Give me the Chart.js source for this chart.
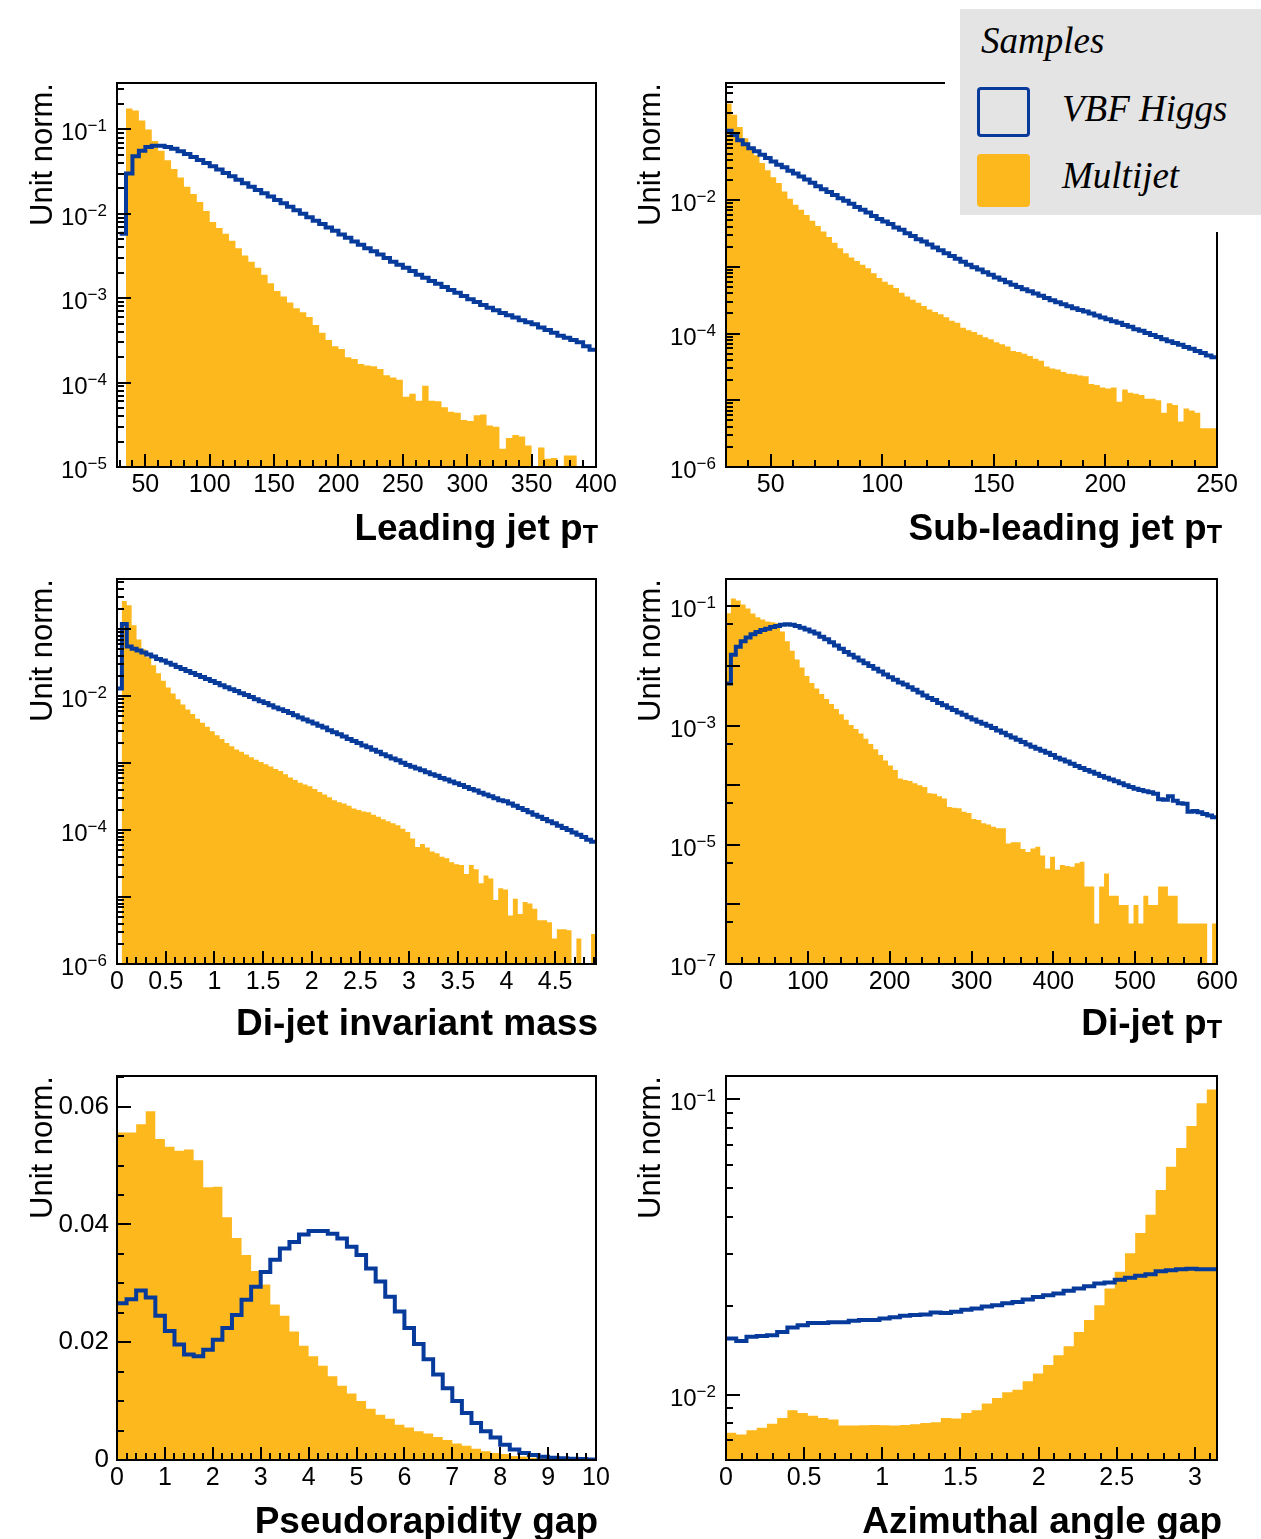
<!DOCTYPE html>
<html>
<head>
<meta charset="utf-8">
<script src="https://cdn.jsdelivr.net/npm/chart.js@4.4.1/dist/chart.umd.min.js"></script>
<style>
  body { margin: 0; background: #fff; }
  #page { position: relative; width: 1261px; height: 1539px; overflow: hidden; background: #fff;
          font-family: "Liberation Sans", Arial, Helvetica, sans-serif; color: #000; }
  #page canvas { position: absolute; }
  .xtitle { position: absolute; font-weight: bold; font-size: 37px; line-height: 37px; white-space: nowrap; text-align: right; }
  .xtitle sub { font-size: 0.68em; vertical-align: -0.12em; line-height: 0; }
  .ytitle { position: absolute; font-size: 31px; line-height: 31px; white-space: nowrap;
            transform-origin: 0 0; transform: rotate(-90deg) translateX(-100%); }
  #legendCover { position: absolute; left: 945px; top: 0; width: 316px; height: 232px; background: #fff; z-index: 5; }
  #legendBox { position: absolute; left: 960px; top: 9px; width: 301px; height: 206px; background: #e4e4e4; z-index: 6; }
  .leg { position: absolute; font-family: "Liberation Serif", "Times New Roman", serif; font-style: italic;
         font-size: 37px; line-height: 37px; white-space: nowrap; z-index: 7; }
  .mark { position: absolute; box-sizing: border-box; border-radius: 4px; z-index: 7; }
</style>
</head>
<body>
<div id="page">
  <div class="ytitle" style="left:26px;top:83px">Unit norm.</div>
  <div class="ytitle" style="left:634px;top:83px">Unit norm.</div>
  <div class="ytitle" style="left:26px;top:579px">Unit norm.</div>
  <div class="ytitle" style="left:634px;top:579px">Unit norm.</div>
  <div class="ytitle" style="left:26px;top:1076px">Unit norm.</div>
  <div class="ytitle" style="left:634px;top:1076px">Unit norm.</div>

  <div class="xtitle" style="right:663px;top:509px">Leading jet p<sub>T</sub></div>
  <div class="xtitle" style="right:39px;top:509px">Sub-leading jet p<sub>T</sub></div>
  <div class="xtitle" style="right:663px;top:1004px">Di-jet invariant mass</div>
  <div class="xtitle" style="right:39px;top:1004px">Di-jet p<sub>T</sub></div>
  <div class="xtitle" style="right:663px;top:1502px">Pseudorapidity gap</div>
  <div class="xtitle" style="right:39px;top:1502px">Azimuthal angle gap</div>

  <div id="legendCover"></div>
  <div id="legendBox"></div>
  <div class="leg" style="left:981px;top:22px">Samples</div>
  <div class="mark" style="left:977px;top:87px;width:53px;height:50px;border:3px solid #063a9b"></div>
  <div class="leg" style="left:1062px;top:90px">VBF Higgs</div>
  <div class="mark" style="left:977px;top:154px;width:53px;height:53px;background:#fdb81e"></div>
  <div class="leg" style="left:1062px;top:157px">Multijet</div>
</div>

<script>
// ---- Leading jet pT ----
const leadBinLow = 30, leadBinWidth = 5;
const leadMultijet = [
  0, 0.177, 0.168, 0.128, 0.100, 0.073, 0.056, 0.043, 0.034, 0.027,
  0.021, 0.0172, 0.0138, 0.0108, 0.0080, 0.0068, 0.0058, 0.0048, 0.0039, 0.0032,
  0.0027, 0.0023, 0.0019, 0.0015, 0.00122, 0.00105, 0.00089, 0.00076, 0.00068, 0.00060,
  0.00048, 0.00039, 0.00032, 0.00027, 0.00025, 0.00020, 0.00019, 0.000166, 0.000160, 0.000156,
  0.000145, 0.000122, 0.000115, 0.000108, 6.8e-5, 7.4e-5, 6.1e-5, 9.2e-5, 6.1e-5, 6.0e-5,
  5.1e-5, 4.5e-5, 4.4e-5, 3.6e-5, 3.5e-5, 4.1e-5, 4.2e-5, 3.1e-5, 3.0e-5, 1.65e-5,
  2.2e-5, 2.4e-5, 2.3e-5, 1.8e-5, 0, 1.7e-5, 1.25e-5, 1.28e-5, 0, 1.37e-5,
  1.37e-5, 0, 0, 0
];
const leadVBF = [
  0.0058, 0.030, 0.048, 0.056, 0.062, 0.064, 0.064, 0.062, 0.059, 0.055,
  0.051, 0.047, 0.0435, 0.040, 0.0365, 0.0335, 0.0305, 0.0278, 0.0253, 0.0230,
  0.0210, 0.0192, 0.0175, 0.0160, 0.0146, 0.0133, 0.0121, 0.0110, 0.0100, 0.0091,
  0.0083, 0.0076, 0.0069, 0.0063, 0.0057, 0.0052, 0.0047, 0.0043, 0.0039, 0.0036,
  0.0033, 0.0030, 0.0027, 0.0025, 0.0023, 0.0021, 0.0019, 0.00175, 0.0016, 0.00148,
  0.00136, 0.00125, 0.00116, 0.00106, 0.00097, 0.00090, 0.00083, 0.00077, 0.00072, 0.00067,
  0.00063, 0.00059, 0.00055, 0.00052, 0.00049, 0.00045, 0.00042, 0.00039, 0.00036, 0.00034,
  0.00032, 0.00030, 0.00027, 0.000245
];
const leadXTicks = [50, 100, 150, 200, 250, 300, 350, 400];
const leadYLabels = [1e-1, 1e-2, 1e-3, 1e-4, 1e-5];

// ---- Sub-leading jet pT ----
const subBinLow = 30, subBinWidth = 2.5;
const subMultijet = [
  0.28, 0.19, 0.125, 0.085, 0.063, 0.047, 0.036, 0.028, 0.022, 0.018,
  0.0135, 0.0105, 0.0085, 0.0072, 0.0060, 0.0049, 0.0041, 0.0034, 0.0028, 0.0023,
  0.0019, 0.0016, 0.00138, 0.00122, 0.00108, 0.00095, 0.00080, 0.00068, 0.00060, 0.00054,
  0.00048, 0.00041, 0.00036, 0.00032, 0.00029, 0.00026, 0.00023, 0.00021, 0.000195, 0.000175,
  0.000155, 0.000145, 0.000122, 0.000112, 0.000106, 9.6e-5, 8.8e-5, 8.2e-5, 7.4e-5, 6.9e-5,
  6.4e-5, 5.5e-5, 5.3e-5, 5.0e-5, 4.6e-5, 4.2e-5, 3.9e-5, 3.2e-5, 3.0e-5, 2.9e-5,
  2.65e-5, 2.5e-5, 2.45e-5, 2.35e-5, 2.3e-5, 1.75e-5, 1.7e-5, 1.55e-5, 1.5e-5, 1.55e-5,
  9.5e-6, 1.45e-5, 1.3e-5, 1.25e-5, 1.2e-5, 1.05e-5, 1.05e-5, 1.0e-5, 6.5e-6, 9.0e-6,
  8.5e-6, 4.8e-6, 7.5e-6, 7.0e-6, 6.5e-6, 3.8e-6, 3.8e-6, 3.8e-6
];
const subVBF = [
  0.110, 0.095, 0.079, 0.069, 0.060, 0.054, 0.048, 0.043, 0.038, 0.034,
  0.031, 0.0275, 0.025, 0.0226, 0.0204, 0.0182, 0.0162, 0.0146, 0.0132, 0.0119,
  0.0107, 0.0098, 0.0088, 0.0079, 0.0072, 0.0065, 0.0058, 0.0052, 0.0048, 0.0044,
  0.0039, 0.0036, 0.0032, 0.0029, 0.0026, 0.0024, 0.00216, 0.00195, 0.00178, 0.0016,
  0.00145, 0.00132, 0.00119, 0.00108, 0.00099, 0.00091, 0.00083, 0.00076, 0.00069, 0.00064,
  0.00059, 0.00054, 0.0005, 0.00046, 0.00043, 0.0004, 0.00037, 0.00034, 0.000316, 0.000295,
  0.000275, 0.000257, 0.00024, 0.000226, 0.000214, 0.0002, 0.000186, 0.000174, 0.000164, 0.000153,
  0.000145, 0.000135, 0.000126, 0.000116, 0.00011, 0.000102, 9.5e-5, 8.9e-5, 8.2e-5, 7.7e-5,
  7.2e-5, 6.8e-5, 6.3e-5, 5.9e-5, 5.5e-5, 5.1e-5, 4.7e-5, 4.4e-5
];
const subXTicks = [50, 100, 150, 200, 250];
const subYLabels = [1e-2, 1e-4, 1e-6];

// ---- Di-jet invariant mass ----
const massBinLow = 0, massBinWidth = 0.0502;
const massMultijet = [
  0, 0.264, 0.228, 0.115, 0.070, 0.050, 0.038, 0.029, 0.022, 0.017,
  0.0135, 0.0110, 0.0090, 0.0075, 0.0063, 0.0054, 0.0046, 0.0040, 0.0035, 0.0030,
  0.0026, 0.0023, 0.0020, 0.00178, 0.0016, 0.00148, 0.00135, 0.00122, 0.00112, 0.00104,
  0.00096, 0.00089, 0.00082, 0.00076, 0.00068, 0.00061, 0.00056, 0.00051, 0.00048, 0.00045,
  0.00041, 0.00037, 0.00034, 0.00031, 0.00028, 0.00026, 0.00025, 0.00023, 0.00021, 0.00020,
  0.00019, 0.000185, 0.00017, 0.000158, 0.000145, 0.000135, 0.000126, 0.000118, 0.000105, 9.4e-5,
  7.5e-5, 5.6e-5, 6.2e-5, 5.5e-5, 4.8e-5, 4.5e-5, 4.0e-5, 3.8e-5, 3.3e-5, 3.1e-5,
  3.0e-5, 2.2e-5, 3.0e-5, 2.6e-5, 1.6e-5, 2.1e-5, 1.9e-5, 9.0e-6, 1.35e-5, 1.3e-5,
  5.3e-6, 9.4e-6, 5.6e-6, 8.4e-6, 8.0e-6, 6.7e-6, 4.5e-6, 4.5e-6, 4.2e-6, 2.4e-6,
  3.3e-6, 3.3e-6, 3.2e-6, 0, 2.4e-6, 0, 0, 2.8e-6
];
const massVBF = [
  0.013, 0.12, 0.055, 0.051, 0.048, 0.045, 0.042, 0.039, 0.036, 0.034,
  0.0316, 0.0295, 0.0272, 0.0254, 0.0237, 0.0221, 0.0207, 0.0193, 0.018, 0.0168,
  0.0157, 0.0146, 0.0136, 0.0127, 0.0119, 0.0111, 0.0104, 0.0097, 0.009, 0.0084,
  0.0079, 0.0073, 0.0068, 0.0064, 0.006, 0.0056, 0.0052, 0.0048, 0.0045, 0.0042,
  0.0039, 0.0036, 0.0034, 0.0031, 0.0029, 0.0027, 0.0025, 0.0023, 0.00214, 0.002,
  0.00184, 0.00172, 0.00158, 0.00148, 0.00136, 0.00127, 0.00117, 0.0011, 0.00101, 0.00094,
  0.00088, 0.00083, 0.00078, 0.00073, 0.00068, 0.00065, 0.0006, 0.00057, 0.00053, 0.0005,
  0.00047, 0.00044, 0.00041, 0.00039, 0.00036, 0.00034, 0.00032, 0.0003, 0.00028, 0.00027,
  0.00025, 0.00023, 0.000214, 0.0002, 0.000184, 0.00017, 0.000158, 0.000146, 0.000135, 0.000126,
  0.000116, 0.000107, 0.0001, 9.2e-5, 8.5e-5, 7.9e-5, 7.2e-5, 6.7e-5
];
const massXTicks = [0, 0.5, 1, 1.5, 2, 2.5, 3, 3.5, 4, 4.5];
const massYLabels = [1e-2, 1e-4, 1e-6];

// ---- Di-jet pT ----
const ptBinLow = 0, ptBinWidth = 6;
const ptMultijet = [
  0.077, 0.135, 0.125, 0.108, 0.092, 0.076, 0.066, 0.060, 0.056, 0.054,
  0.052, 0.038, 0.026, 0.018, 0.0128, 0.0094, 0.0068, 0.0052, 0.0042, 0.0034,
  0.0028, 0.0023, 0.0019, 0.00155, 0.00125, 0.00102, 0.00088, 0.00074, 0.0006, 0.00049,
  0.0004, 0.00032, 0.00026, 0.000215, 0.00018, 0.00013, 0.000122, 0.000118, 0.000108, 0.0001,
  9.3e-5, 7.3e-5, 7.2e-5, 6.5e-5, 6.0e-5, 4.3e-5, 4.2e-5, 4.1e-5, 3.6e-5, 3.4e-5,
  2.7e-5, 2.6e-5, 2.3e-5, 2.2e-5, 2.0e-5, 1.9e-5, 1.9e-5, 1.05e-5, 1.1e-5, 1.1e-5,
  8.5e-6, 7.6e-6, 8.7e-6, 9.3e-6, 6.6e-6, 4.0e-6, 6.3e-6, 3.8e-6, 4.6e-6, 4.4e-6,
  4.3e-6, 4.9e-6, 5.2e-6, 2.0e-6, 2.0e-6, 4.8e-7, 2.0e-6, 3.3e-6, 1.4e-6, 1.4e-6,
  9.8e-7, 9.8e-7, 4.8e-7, 9.8e-7, 4.8e-7, 1.4e-6, 9.8e-7, 9.8e-7, 2.0e-6, 2.0e-6,
  1.4e-6, 1.4e-6, 4.8e-7, 4.8e-7, 4.8e-7, 4.8e-7, 4.8e-7, 4.8e-7, 0, 4.8e-7
];
const ptVBF = [
  0.0051, 0.0155, 0.021, 0.026, 0.030, 0.034, 0.037, 0.040, 0.042, 0.045,
  0.047, 0.049, 0.050, 0.049, 0.047, 0.044, 0.041, 0.038, 0.035, 0.031,
  0.028, 0.025, 0.022, 0.0195, 0.0172, 0.0155, 0.0139, 0.0124, 0.0111, 0.0100,
  0.0090, 0.0081, 0.0072, 0.0065, 0.0059, 0.0053, 0.0049, 0.0044, 0.0040, 0.0036,
  0.0032, 0.0029, 0.0027, 0.0024, 0.0022, 0.0020, 0.00183, 0.00166, 0.00152, 0.00138,
  0.00127, 0.00116, 0.00107, 0.00099, 0.00091, 0.00083, 0.00076, 0.00069, 0.00063, 0.00058,
  0.00053, 0.00048, 0.00044, 0.00041, 0.00038, 0.00035, 0.00032, 0.00029, 0.00027, 0.00025,
  0.00023, 0.00021, 0.000195, 0.00018, 0.000168, 0.000155, 0.000143, 0.000133, 0.000125, 0.000116,
  0.000108, 0.0001, 9.3e-5, 8.7e-5, 8.3e-5, 7.9e-5, 7.6e-5, 7.2e-5, 5.8e-5, 5.7e-5,
  6.5e-5, 5.5e-5, 5.0e-5, 4.9e-5, 3.6e-5, 3.7e-5, 3.5e-5, 3.3e-5, 3.1e-5, 2.9e-5
];
const ptXTicks = [0, 100, 200, 300, 400, 500, 600];
const ptYLabels = [1e-1, 1e-3, 1e-5, 1e-7];

// ---- Pseudorapidity gap ----
const etaBinLow = 0, etaBinWidth = 0.2;
const etaMultijet = [
  0.0556, 0.0556, 0.0570, 0.0592, 0.0545, 0.0532, 0.0525, 0.0527, 0.0509, 0.0463,
  0.0464, 0.0412, 0.0377, 0.0348, 0.0321, 0.0298, 0.0264, 0.0245, 0.0218, 0.0194,
  0.0176, 0.0160, 0.0142, 0.0126, 0.0113, 0.0100, 0.0087, 0.0077, 0.0070, 0.0060,
  0.0055, 0.0049, 0.0045, 0.0039, 0.0034, 0.0028, 0.0024, 0.0019, 0.0015, 0.0012,
  0.0010, 0.0007, 0.0006, 0.0004, 0.0003, 0.0002, 0.00012, 0.00006, 0.00003, 0.00003
];
const etaVBF = [
  0.0266, 0.0273, 0.0288, 0.0276, 0.0245, 0.0219, 0.0196, 0.0179, 0.0176, 0.0187,
  0.0204, 0.0224, 0.0246, 0.0272, 0.0294, 0.0319, 0.0340, 0.0359, 0.0370, 0.0383,
  0.0389, 0.0389, 0.0384, 0.0376, 0.0362, 0.0348, 0.0325, 0.0303, 0.0277, 0.0252,
  0.0224, 0.0197, 0.0171, 0.0145, 0.0122, 0.0100, 0.0080, 0.0063, 0.0049, 0.0038,
  0.0026, 0.0018, 0.0012, 0.00085, 0.00056, 0.0004, 0.00028, 0.0002, 0.00015, 0.0001
];
const etaXTicks = [0, 1, 2, 3, 4, 5, 6, 7, 8, 9, 10];
const etaYLabels = [0, 0.02, 0.04, 0.06];

// ---- Azimuthal angle gap ----
const phiBinLow = 0, phiBinWidth = Math.PI / 48;
const phiMultijet = [
  0.00743, 0.00733, 0.00758, 0.00773, 0.00798, 0.00834, 0.00885, 0.00867, 0.00849, 0.00834,
  0.00824, 0.00787, 0.00787, 0.00788, 0.0079, 0.00788, 0.00787, 0.0079, 0.00794, 0.00802,
  0.00807, 0.00834, 0.0083, 0.00867, 0.00885, 0.00933, 0.00975, 0.0102, 0.0104, 0.0111,
  0.0118, 0.0126, 0.0136, 0.0146, 0.0163, 0.0179, 0.0201, 0.0229, 0.0261, 0.0301,
  0.0353, 0.0407, 0.0493, 0.0591, 0.0684, 0.0813, 0.097, 0.108
];
const phiVBF = [
  0.0155, 0.0152, 0.0157, 0.0158, 0.0159, 0.0163, 0.0169, 0.0172, 0.0175, 0.0175,
  0.0176, 0.0176, 0.0178, 0.0179, 0.0179, 0.0181, 0.0183, 0.0185, 0.0186, 0.0187,
  0.0190, 0.0189, 0.0191, 0.0194, 0.0196, 0.0199, 0.0201, 0.0204, 0.0206, 0.0210,
  0.0214, 0.0217, 0.0220, 0.0225, 0.0229, 0.0233, 0.0238, 0.0240, 0.0245, 0.0249,
  0.0253, 0.0256, 0.0262, 0.0264, 0.0266, 0.0267, 0.0266, 0.0266
];
const phiXTicks = [0, 0.5, 1, 1.5, 2, 2.5, 3];
const phiYLabels = [1e-1, 1e-2];

// ---------------------------------------------------------------
const BLUE = '#063a9b';
const ORANGE = '#fdb81e';
const FONT = "'Liberation Sans', Arial, Helvetica, sans-serif";
const PAD = { l: 110, t: 30, r: 30, b: 50 };
const page = document.getElementById('page');

const panels = [
  { frame: [117, 83, 596, 467], xr: [28, 400], yr: [1e-5, 0.355], log: true,
    lo: leadBinLow, w: leadBinWidth, multi: leadMultijet, vbf: leadVBF,
    xt: leadXTicks, xMinor: 10, yl: leadYLabels, yMinor: [2, 3, 4, 5, 6, 7, 8, 9] },
  { frame: [726, 83, 1217, 467], xr: [30, 250], yr: [1e-6, 0.57], log: true,
    lo: subBinLow, w: subBinWidth, multi: subMultijet, vbf: subVBF,
    xt: subXTicks, xMinor: 10, yl: subYLabels, yMinor: [2, 3, 4, 5, 6, 7, 8, 9] },
  { frame: [117, 579, 596, 964], xr: [0, 4.92], yr: [1e-6, 0.562], log: true,
    lo: massBinLow, w: massBinWidth, multi: massMultijet, vbf: massVBF,
    xt: massXTicks, xMinor: 0.1, yl: massYLabels, yMinor: [2, 3, 4, 5, 6, 7, 8, 9] },
  { frame: [726, 579, 1217, 964], xr: [0, 600], yr: [1e-7, 0.288], log: true,
    lo: ptBinLow, w: ptBinWidth, multi: ptMultijet, vbf: ptVBF,
    xt: ptXTicks, xMinor: 20, yl: ptYLabels, yMinor: [5] },
  { frame: [117, 1076, 596, 1460], xr: [0, 10], yr: [0, 0.0652], log: false,
    lo: etaBinLow, w: etaBinWidth, multi: etaMultijet, vbf: etaVBF,
    xt: etaXTicks, xMinor: 0.2, yl: etaYLabels, yMinor: 0.005 },
  { frame: [726, 1076, 1217, 1460], xr: [0, Math.PI], yr: [0.00601, 0.12], log: true,
    lo: phiBinLow, w: phiBinWidth, multi: phiMultijet, vbf: phiVBF,
    xt: phiXTicks, xMinor: 0.1, yl: phiYLabels, yMinor: [2, 3, 4, 5, 6, 7, 8, 9] }
];

const near = (a, b) => Math.abs(a - b) <= 1e-9 * Math.max(1, Math.abs(b)) || (b !== 0 && Math.abs(a / b - 1) < 1e-6);

function linearTicks(majors, step, min, max) {
  const out = majors.map(v => ({ value: v, major: true }));
  const k0 = Math.ceil(min / step - 1e-9), k1 = Math.floor(max / step + 1e-9);
  for (let k = k0; k <= k1; k++) {
    const v = Math.round(k * step * 1e6) / 1e6;
    if (!majors.some(m => near(v, m))) out.push({ value: v, major: false });
  }
  return out.sort((a, b) => a.value - b.value);
}
function logTicks(min, max, mults) {
  const out = [];
  for (let e = Math.floor(Math.log10(min)); e <= Math.ceil(Math.log10(max)); e++) {
    const d = Number('1e' + e);
    if (d >= min * 0.999 && d <= max) out.push({ value: d, major: true });
    mults.forEach(m => {
      const v = Number(m + 'e' + e);
      if (v > min && v < max) out.push({ value: v, major: false });
    });
  }
  return out.sort((a, b) => a.value - b.value);
}

// ROOT style frame with inward ticks, and 10^n labels with a raised exponent
const rootAxes = {
  id: 'rootAxes',
  afterDatasetsDraw(chart, args, opts) {
    const { ctx, chartArea: a, scales: { x, y } } = chart;
    ctx.save();
    ctx.strokeStyle = '#000';
    ctx.lineWidth = 2;
    ctx.beginPath();
    x.ticks.forEach(t => {
      const px = Math.round(x.getPixelForValue(t.value));
      ctx.moveTo(px, a.bottom);
      ctx.lineTo(px, a.bottom - (t.major ? 13 : 7));
    });
    y.ticks.forEach(t => {
      const py = Math.round(y.getPixelForValue(t.value));
      ctx.moveTo(a.left, py);
      ctx.lineTo(a.left + (t.major ? 14 : 7), py);
    });
    ctx.stroke();
    ctx.strokeRect(a.left, a.top, a.right - a.left, a.bottom - a.top);

    if (opts.log) {
      ctx.fillStyle = '#000';
      ctx.textAlign = 'left';
      ctx.textBaseline = 'alphabetic';
      y.ticks.forEach(t => {
        if (!opts.labels.some(l => near(t.value, l))) return;
        const py = y.getPixelForValue(t.value);
        const e = Math.round(Math.log10(t.value));
        const ex = (e < 0 ? '\u2212' : '') + Math.abs(e);
        ctx.font = '17px ' + FONT;
        const we = ctx.measureText(ex).width;
        ctx.font = '24px ' + FONT;
        const wb = ctx.measureText('10').width;
        const right = a.left - 10;
        ctx.fillText('10', right - we - wb, py + 11);
        ctx.font = '17px ' + FONT;
        ctx.fillText(ex, right - we, py + 2);
      });
    }
    ctx.restore();
  }
};

function drawPanel(p) {
  const [fl, ft, fr, fb] = p.frame;
  const canvas = document.createElement('canvas');
  canvas.width = fr - fl + PAD.l + PAD.r;
  canvas.height = fb - ft + PAD.t + PAD.b;
  canvas.style.left = (fl - PAD.l) + 'px';
  canvas.style.top = (ft - PAD.t) + 'px';
  page.insertBefore(canvas, page.firstChild);

  // bin contents -> step points at the lower bin edges, closed at the last upper edge
  const toPoints = vals => {
    const pts = vals.map((v, i) => ({ x: p.lo + i * p.w, y: p.log && !(v > 0) ? p.yr[0] : v }));
    pts.push({ x: p.lo + vals.length * p.w, y: pts[pts.length - 1].y });
    return pts;
  };

  const xt = linearTicks(p.xt, p.xMinor, p.xr[0], p.xr[1]);
  const yt = p.log ? logTicks(p.yr[0], p.yr[1], p.yMinor)
                   : linearTicks(p.yl, p.yMinor, p.yr[0], p.yr[1]);

  new Chart(canvas, {
    type: 'line',
    data: {
      datasets: [
        { label: 'VBF Higgs', data: toPoints(p.vbf), borderColor: BLUE, borderWidth: 4,
          borderJoinStyle: 'miter', pointRadius: 0, stepped: true, fill: false },
        { label: 'Multijet', data: toPoints(p.multi), borderColor: 'rgba(0,0,0,0)', borderWidth: 0,
          backgroundColor: ORANGE, pointRadius: 0, stepped: true, fill: 'start' }
      ]
    },
    options: {
      responsive: false,
      animation: false,
      events: [],
      layout: { padding: { left: 0, top: PAD.t, right: PAD.r, bottom: 0 } },
      plugins: {
        legend: { display: false },
        tooltip: { enabled: false },
        rootAxes: { log: p.log, labels: p.yl }
      },
      scales: {
        x: {
          type: 'linear', min: p.xr[0], max: p.xr[1],
          grid: { display: false, drawTicks: false }, border: { display: false },
          afterBuildTicks: s => { s.ticks = xt; },
          afterFit: s => { s.height = PAD.b; },
          ticks: {
            autoSkip: false, maxRotation: 0, minRotation: 0, padding: 3, color: '#000',
            font: { family: FONT, size: 25 },
            callback: v => p.xt.some(m => near(v, m)) ? String(Math.round(v * 1000) / 1000) : ''
          }
        },
        y: {
          type: p.log ? 'logarithmic' : 'linear', min: p.yr[0], max: p.yr[1],
          grid: { display: false, drawTicks: false }, border: { display: false },
          afterBuildTicks: s => { s.ticks = yt; },
          afterFit: s => { s.width = PAD.l; },
          ticks: {
            display: !p.log, autoSkip: false, padding: 8, color: '#000',
            font: { family: FONT, size: 26 },
            callback: v => p.yl.some(l => near(v, l)) ? String(Math.round(v * 1000) / 1000) : ''
          }
        }
      }
    },
    plugins: [rootAxes]
  });
}

panels.forEach(drawPanel);
</script>
</body>
</html>
